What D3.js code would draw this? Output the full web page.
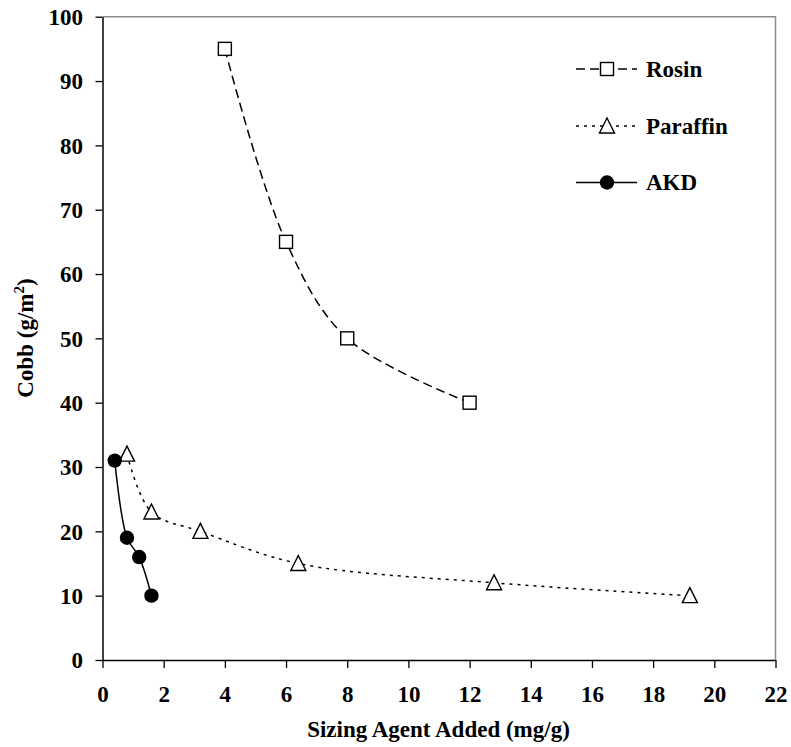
<!DOCTYPE html>
<html>
<head>
<meta charset="utf-8">
<script src="https://cdn.jsdelivr.net/npm/d3@7"></script>
<style>
  html, body { margin: 0; padding: 0; background: #fff; }
  svg { display: block; }
  text { font-family: "Liberation Serif", "Times New Roman", serif; font-weight: bold; fill: #000; }
</style>
</head>
<body>
<svg id="chart" width="791" height="747"></svg>
<script>
// Sizing agent dosage (mg/g) vs Cobb value (g/m²)
const rosinX = [4, 6, 8, 12];
const rosinY = [95, 65, 50, 40];
const paraffinX = [0.8, 1.6, 3.2, 6.4, 12.8, 19.2];
const paraffinY = [32, 23, 20, 15, 12, 10];
const akdX = [0.4, 0.8, 1.2, 1.6];
const akdY = [31, 19, 16, 10];
const xTicks = [0, 2, 4, 6, 8, 10, 12, 14, 16, 18, 20, 22];
const yTicks = [0, 10, 20, 30, 40, 50, 60, 70, 80, 90, 100];
const seriesNames = ["Rosin", "Paraffin", "AKD"];

const svg = d3.select("#chart");
const plotLeft = 102.5, plotRight = 775.5, plotTop = 16.7, plotBottom = 660;
const fontSize = 23;

const x = d3.scaleLinear().domain([0, 22]).range([plotLeft, plotRight]);
const y = d3.scaleLinear().domain([0, 100]).range([plotBottom, plotTop]);

// plot area frame: grey top and right edges
svg.append("path")
  .attr("d", `M${plotLeft},${plotTop}H${plotRight}V${plotBottom}`)
  .attr("fill", "none").attr("stroke", "#8c8c8c").attr("stroke-width", 1.5);

// axes
const yAxis = svg.append("g").attr("transform", `translate(${plotLeft},0)`)
  .call(d3.axisLeft(y).tickValues(yTicks).tickSize(7).tickSizeOuter(0));
const xAxis = svg.append("g").attr("transform", `translate(0,${plotBottom})`)
  .call(d3.axisBottom(x).tickValues(xTicks).tickSize(8).tickSizeOuter(0));

[yAxis, xAxis].forEach(g => {
  g.select(".domain").attr("stroke", "#000").attr("stroke-width", 1.5);
  g.selectAll(".tick line").attr("stroke", "#000").attr("stroke-width", 1.3);
  g.selectAll(".tick text").attr("font-size", fontSize).attr("fill", "#000");
});
yAxis.selectAll(".tick text").attr("x", -19.5).attr("dy", "0.34em");
xAxis.selectAll(".tick text").attr("y", 41.5).attr("dy", 0);

// axis titles
svg.append("text")
  .attr("x", (plotLeft + plotRight) / 2 - 0.5).attr("y", 737)
  .attr("text-anchor", "middle").attr("font-size", fontSize)
  .text("Sizing Agent Added (mg/g)");

const yt = svg.append("text")
  .attr("transform", `translate(33,338) rotate(-90)`)
  .attr("text-anchor", "middle").attr("font-size", fontSize);
yt.append("tspan").text("Cobb (g/m");
yt.append("tspan").attr("font-size", 15).attr("dy", -9).text("2");
yt.append("tspan").attr("dy", 9).text(")");

const line = d3.line().x(d => x(d[0])).y(d => y(d[1])).curve(d3.curveCatmullRom.alpha(0.5));

const series = [
  { name: seriesNames[0], pts: rosinX.map((v, i) => [v, rosinY[i]]), dash: "9,5", marker: "square" },
  { name: seriesNames[1], pts: paraffinX.map((v, i) => [v, paraffinY[i]]), dash: "3,5", marker: "triangle" },
  { name: seriesNames[2], pts: akdX.map((v, i) => [v, akdY[i]]), dash: null, marker: "circle" }
];

function drawMarker(g, kind, cx, cy) {
  if (kind === "square") {
    g.append("rect").attr("x", cx - 6.5).attr("y", cy - 6.5).attr("width", 13).attr("height", 13)
      .attr("fill", "#fff").attr("stroke", "#000").attr("stroke-width", 1.4);
  } else if (kind === "triangle") {
    g.append("path")
      .attr("d", `M${cx},${cy - 8}L${cx + 7.5},${cy + 7}L${cx - 7.5},${cy + 7}Z`)
      .attr("fill", "#fff").attr("stroke", "#000").attr("stroke-width", 1.4);
  } else {
    g.append("circle").attr("cx", cx).attr("cy", cy).attr("r", 7.2).attr("fill", "#000");
  }
}

series.forEach(s => {
  svg.append("path").attr("d", line(s.pts))
    .attr("fill", "none").attr("stroke", "#000").attr("stroke-width", 1.5)
    .attr("stroke-dasharray", s.dash);
  const g = svg.append("g");
  s.pts.forEach(p => drawMarker(g, s.marker, x(p[0]), y(p[1])));
});

// legend
const legendY = [69, 126, 182.5];
series.forEach((s, i) => {
  const ly = legendY[i];
  svg.append("line").attr("x1", 576).attr("x2", 637).attr("y1", ly).attr("y2", ly)
    .attr("stroke", "#000").attr("stroke-width", 1.5).attr("stroke-dasharray", s.dash);
  drawMarker(svg, s.marker, 607, ly);
  svg.append("text").attr("x", 646).attr("y", ly + 7.5)
    .attr("font-size", fontSize).text(s.name);
});
</script>
</body>
</html>
